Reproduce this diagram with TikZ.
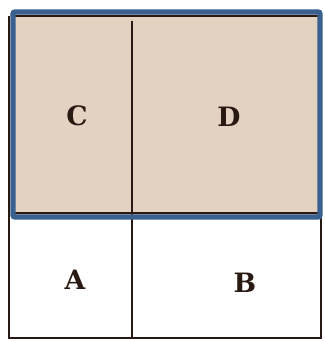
\documentclass[tikz,border=0pt]{standalone}
\usepackage{tikz}
\usepackage{fontspec}
\newfontfamily\slabfont{DejaVu Serif}
\definecolor{paper}{RGB}{227,209,193}
\definecolor{frameblue}{RGB}{58,96,143}
\definecolor{ink}{RGB}{40,26,18}

\tikzset{
  inkline/.style={color=ink,line width=2},
  cell label/.style={inner sep=0.75pt,font=\slabfont\fontsize{20}{22}\selectfont\bfseries,text=ink}
}

\begin{document}
\begin{tikzpicture}[x=0.75pt,y=0.75pt,yscale=-1,xscale=1]
\useasboundingbox (0,0) rectangle (324,341);

%Shape: Rectangle (shaded top part)
\fill [paper] (13,12) rectangle (320,217) ;
%Straight Lines (outer frame)
\draw [inkline] (9,16) -- (9,338) -- (321,338) -- (321,212) ;
\draw [inkline] (13,16) -- (320,16) ;
\draw [inkline] (13,213) -- (320,213) ;
%Straight Lines (middle divider)
\draw [inkline] (132,21) -- (132,338) ;
%Shape: Rectangle (blue outline)
\draw [color=frameblue,line width=4,rounded corners=1.5] (13,12) rectangle (320,217) ;

% Text Node
\node [cell label] (c) at (77,116) {C};
% Text Node
\node [cell label] (d) at (229,117) {D};
% Text Node
\node [cell label] (a) at (75,280) {A};
% Text Node
\node [cell label] (b) at (245,283) {B};

\end{tikzpicture}
\end{document}
